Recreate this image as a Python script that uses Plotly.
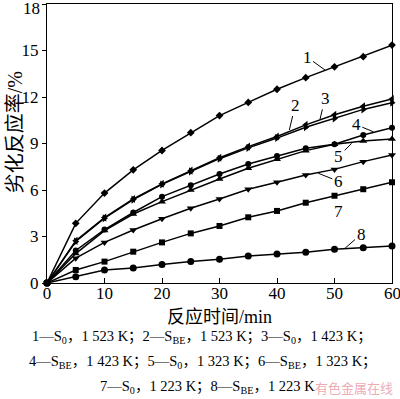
import plotly.graph_objects as go

time_min = [0, 5, 10, 15, 20, 25, 30, 35, 40, 45, 50, 55, 60]
c1 = [0, 3.85, 5.8, 7.3, 8.55, 9.7, 10.8, 11.65, 12.5, 13.25, 13.95, 14.6, 15.35]
c2 = [0, 2.72, 4.22, 5.42, 6.4, 7.25, 8.08, 8.8, 9.45, 10.2, 10.85, 11.4, 11.87]
c3 = [0, 2.68, 4.18, 5.38, 6.36, 7.2, 8.02, 8.72, 9.35, 10.05, 10.62, 11.2, 11.63]
c4 = [0, 2.1, 3.45, 4.55, 5.57, 6.3, 7.03, 7.68, 8.19, 8.69, 8.95, 9.55, 10.02]
c5 = [0, 1.9, 3.38, 4.45, 5.25, 6.0, 6.71, 7.4, 7.98, 8.54, 8.95, 9.16, 9.29]
c6 = [0, 1.6, 2.62, 3.42, 4.15, 4.82, 5.42, 6.05, 6.5, 6.97, 7.33, 7.83, 8.26]
c7 = [0, 0.84, 1.38, 2.02, 2.62, 3.2, 3.68, 4.24, 4.65, 5.18, 5.63, 6.05, 6.5]
c8 = [0, 0.41, 0.84, 0.97, 1.2, 1.38, 1.53, 1.74, 1.87, 1.98, 2.17, 2.28, 2.39]

x_ticks = [0, 10, 20, 30, 40, 50, 60]
y_ticks = [0, 3, 6, 9, 12, 15, 18]

series = [
    ("1", c1, "diamond", 6),
    ("2", c2, "triangle-left", 7),
    ("3", c3, "triangle-right", 7),
    ("4", c4, "circle", 6),
    ("5", c5, "triangle-up", 7),
    ("6", c6, "triangle-down", 7),
    ("7", c7, "square", 6),
    ("8", c8, "circle", 7),
]

# curve label: (name, tip x, tip y, ax, ay)
curve_labels = [
    ("1", 48.35, 13.74, -18, -13),
    ("2", 42.14, 9.87, 6, -25),
    ("3", 47.48, 10.56, 5, -21),
    ("4", 56.75, 9.76, -17, -7),
    ("5", 52.99, 9.01, -13, 13),
    ("6", 47.18, 7.08, 20, 8),
    ("7", 47.77, 5.40, 17, 12),
    ("8", 51.83, 2.24, 16, -14),
]

legend_lines = [
    "1—S<sub>0</sub>，1 523 K；2—S<sub>BE</sub>，1 523 K；3—S<sub>0</sub>，1 423 K；",
    "4—S<sub>BE</sub>，1 423 K；5—S<sub>0</sub>，1 323 K；6—S<sub>BE</sub>，1 323 K；",
    "7—S<sub>0</sub>，1 223 K；8—S<sub>BE</sub>，1 223 K",
]

FONT = "Liberation Serif, Noto Sans CJK SC, serif"

fig = go.Figure()
for name, ys, sym, sz in series:
    fig.add_trace(go.Scatter(
        x=time_min, y=ys, mode="lines+markers", name=name,
        line=dict(color="black", width=1.5),
        marker=dict(symbol=sym, size=sz, color="black"),
        showlegend=False, cliponaxis=False, hoverinfo="skip",
    ))

ann = []
for name, tx, ty, ax, ay in curve_labels:
    ann.append(dict(x=tx, y=ty, xref="x", yref="y", text=name, showarrow=True,
                    arrowhead=0, arrowwidth=1, arrowcolor="black", ax=ax, ay=ay,
                    font=dict(family=FONT, size=17, color="black"), standoff=0))

# end tick labels (would otherwise be hidden at the figure edge)
ann.append(dict(x=-0.015, y=y_ticks[-1], xref="paper", yref="y", text=str(y_ticks[-1]),
                showarrow=False, xanchor="right", yanchor="middle", yshift=-4,
                font=dict(family=FONT, size=17, color="black")))
ann.append(dict(x=x_ticks[-1], y=-0.036, xref="x", yref="paper", text=str(x_ticks[-1]),
                showarrow=False, xanchor="center", yanchor="middle",
                font=dict(family=FONT, size=17, color="black")))

ann.append(dict(x=-0.093, y=0.54, xref="paper", yref="paper", text="劣化反应率/%",
                textangle=-90, showarrow=False, xanchor="center", yanchor="middle",
                font=dict(family=FONT, size=20, color="black")))
ann.append(dict(x=0.501, y=-0.122, xref="paper", yref="paper", text="反应时间/min",
                showarrow=False, xanchor="center", yanchor="middle",
                font=dict(family=FONT, size=18, color="black")))
leg_y = [-0.1935, -0.283, -0.373]
leg_x = [0.448, 0.451, 0.465]
for t, lx, ly in zip(legend_lines, leg_x, leg_y):
    ann.append(dict(x=lx, y=ly, xref="paper", yref="paper", text=t, showarrow=False,
                    xanchor="center", yanchor="middle",
                    font=dict(family=FONT, size=14.5, color="black")))
ann.append(dict(x=1.01, y=-0.373, xref="paper", yref="paper", text="有色金属在线",
                showarrow=False, xanchor="right", yanchor="middle",
                font=dict(family="Noto Sans CJK SC", size=13, color="rgba(230,150,160,0.8)")))

fig.update_layout(
    width=400, height=399,
    margin=dict(l=47, r=8, t=4, b=116),
    paper_bgcolor="white", plot_bgcolor="white",
    annotations=ann,
    xaxis=dict(range=[0, 60], tickvals=x_ticks,
               ticktext=[str(v) for v in x_ticks[:-1]] + [""],
               ticks="inside", ticklen=5, tickcolor="black",
               showline=True, linecolor="black", linewidth=1, mirror=True,
               showgrid=False, zeroline=False, ticklabelstandoff=-5,
               tickfont=dict(family=FONT, size=17, color="black")),
    yaxis=dict(range=[0, 18], tickvals=y_ticks,
               ticktext=[str(v) for v in y_ticks[:-1]] + [""],
               ticks="outside", ticklen=4, tickcolor="black",
               showline=True, linecolor="black", linewidth=1, mirror=True,
               showgrid=False, zeroline=False,
               tickfont=dict(family=FONT, size=17, color="black")),
)

fig.write_html("out.html", config={"displayModeBar": False},
               post_script="document.body.style.margin='0';document.body.style.overflow='hidden';")
